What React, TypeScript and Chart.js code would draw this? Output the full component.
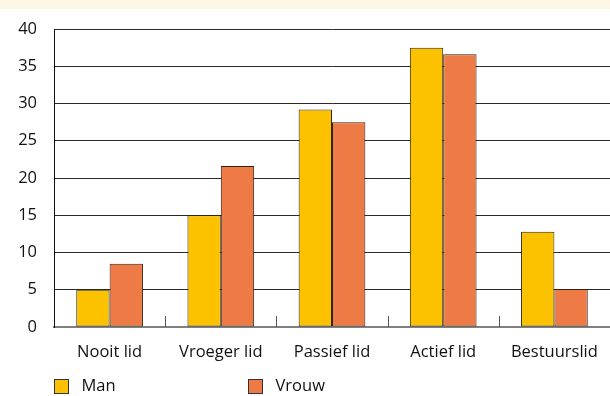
import React, { useEffect, useRef } from "react";
import { Chart, registerables } from "chart.js";

Chart.register(...registerables);

const categories = ["Nooit lid", "Vroeger lid", "Passief lid", "Actief lid", "Bestuurslid"];
const manValues = [5.0, 15.0, 29.2, 37.5, 12.8];
const vrouwValues = [8.5, 21.6, 27.5, 36.6, 5.1];
const seriesLabels = ["Man", "Vrouw"];
const yMax = 40;
const yStep = 5;

const FONT = "'Open Sans', 'Noto Sans', sans-serif";
const FONT_SIZE = 16.5;

const boundaryTicks = {
  id: "boundaryTicks",
  afterDatasetsDraw(chart: any) {
    const x = chart.scales.x;
    const { ctx, chartArea } = chart;
    ctx.save();
    ctx.strokeStyle = "#555555";
    ctx.lineWidth = 1;
    for (let i = 1; i < categories.length; i++) {
      const px = Math.round((x.getPixelForTick(i - 1) + x.getPixelForTick(i)) / 2) + 0.5;
      ctx.beginPath();
      ctx.moveTo(px, chartArea.bottom);
      ctx.lineTo(px, chartArea.bottom - 11);
      ctx.stroke();
    }
    ctx.restore();
  },
};

const customLegend = {
  id: "customLegend",
  afterDraw(chart: any) {
    const { ctx, chartArea } = chart;
    ctx.save();
    chart.data.datasets.forEach((ds: any, i: number) => {
      const bx = chartArea.left + i * 194 + 0.5;
      const by = 379.5;
      ctx.fillStyle = ds.backgroundColor;
      ctx.fillRect(bx, by, 14, 14);
      ctx.strokeStyle = "#333333";
      ctx.lineWidth = 1;
      ctx.strokeRect(bx, by, 14, 14);
      ctx.fillStyle = "#111111";
      ctx.font = `${FONT_SIZE}px ${FONT}`;
      ctx.textBaseline = "middle";
      ctx.textAlign = "left";
      ctx.fillText(ds.label, bx + 27, by + 7);
    });
    ctx.restore();
  },
};

function BarChart() {
  const ref = useRef<HTMLCanvasElement | null>(null);
  useEffect(() => {
    if (!ref.current) return;
    const chart = new Chart(ref.current, {
      type: "bar",
      data: {
        labels: categories,
        datasets: [
          {
            label: seriesLabels[0],
            data: manValues,
            backgroundColor: "#FCC200",
            borderColor: "#2a2614",
            borderWidth: 1,
            borderSkipped: false,
          },
          {
            label: seriesLabels[1],
            data: vrouwValues,
            backgroundColor: "#EE7B46",
            borderColor: "#33200f",
            borderWidth: 1,
            borderSkipped: false,
          },
        ],
      },
      options: {
        animation: false,
        responsive: false,
        maintainAspectRatio: false,
        layout: { padding: { top: 29, right: 0, bottom: 0, left: 0 } },
        datasets: { bar: { categoryPercentage: 0.6, barPercentage: 1.0 } },
        plugins: {
          legend: { display: false },
          tooltip: { enabled: false },
        },
        scales: {
          x: {
            grid: { display: false, drawTicks: true, tickLength: 12 },
            border: { display: true, color: "#808080", width: 2 },
            ticks: {
              color: "#111111",
              font: { family: FONT, size: FONT_SIZE },
              padding: 3,
              maxRotation: 0,
            },
            afterFit(scale: any) {
              scale.height = 69;
            },
          },
          y: {
            min: 0,
            max: yMax,
            ticks: {
              stepSize: yStep,
              color: "#111111",
              font: { family: FONT, size: FONT_SIZE },
              padding: 17,
            },
            grid: { color: "#2a2a2a", lineWidth: 1, drawTicks: false },
            border: { display: true, color: "#111111", width: 1 },
            afterFit(scale: any) {
              scale.width = 54;
            },
          },
        },
      },
      plugins: [boundaryTicks, customLegend],
    });
    return () => chart.destroy();
  }, []);
  return <canvas ref={ref} width={610} height={396} style={{ display: "block" }} />;
}

export default function App() {
  return (
    <div
      style={{
        position: "fixed",
        left: 0,
        top: 0,
        width: 610,
        height: 396,
        background: "#ffffff",
        overflow: "hidden",
      }}
    >
      <div style={{ position: "absolute", left: 0, top: 0, width: 610, height: 9, background: "#FFF7E6" }} />
      <div style={{ position: "absolute", left: 0, top: 0 }}>
        <BarChart />
      </div>
    </div>
  );
}
